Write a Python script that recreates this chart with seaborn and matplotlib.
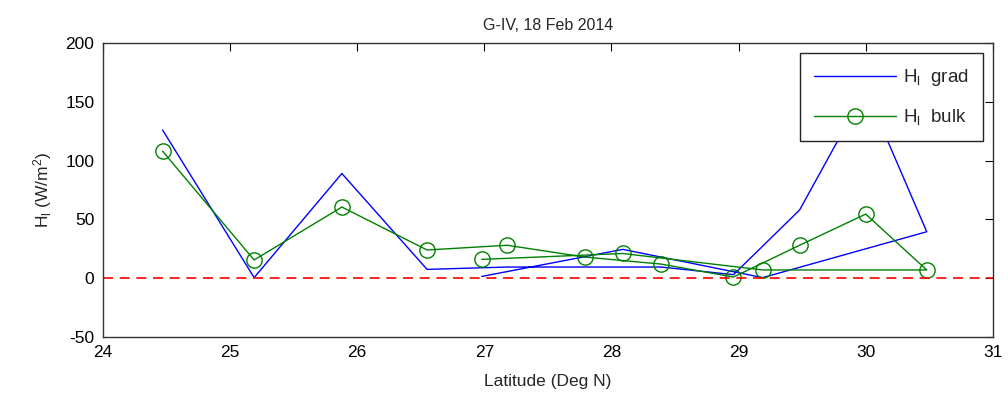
import pandas as pd
import matplotlib
matplotlib.use('Agg')
import matplotlib.pyplot as plt
import seaborn as sns

# Values (flight order, not sorted by latitude)
latitude = [24.47, 25.19, 25.88, 26.55, 27.18, 27.79, 28.39, 28.96, 29.48, 30.0, 30.48, 29.19, 28.09, 26.98]
hl_grad = [126, 0.5, 89, 7.5, 9.5, 9.5, 9.5, 3, 58, 160, 39.5, 0.5, 24.5, 1.5]
hl_bulk = [108, 15.5, 60.5, 24, 28, 18, 12, 1, 28, 54.5, 7, 7, 21, 16]

df = pd.DataFrame({'lat': latitude, 'grad': hl_grad, 'bulk': hl_bulk})

sns.set_style('white')
plt.rcParams['font.family'] = ['Liberation Sans', 'DejaVu Sans']
plt.rcParams['mathtext.default'] = 'regular'
plt.rcParams['axes.unicode_minus'] = False

fig = plt.figure(figsize=(10.08, 4.09), dpi=100)
ax = fig.add_axes([0.102, 0.176, 0.883, 0.719])

sns.lineplot(data=df, x='lat', y='grad', sort=False, estimator=None,
             color='#0000ff', lw=1.0, ax=ax, label=r'H$_l$  grad')
sns.lineplot(data=df, x='lat', y='bulk', sort=False, estimator=None,
             color='#008000', lw=1.0, marker='o', markersize=11,
             markerfacecolor='none', markeredgecolor='#008000',
             markeredgewidth=1.0, ax=ax, label=r'H$_l$  bulk')
ax.axhline(0, color='red', ls=(0, (6, 4)), lw=1.2)

ax.set_xlim(24, 31)
ax.set_ylim(-50, 200)
ax.set_xticks(range(24, 32))
ax.set_yticks(range(-50, 201, 50))
ax.tick_params(direction='in', length=6, width=0.8, top=True, right=True,
               labelsize=12.5, colors='black', pad=6)
for s in ax.spines.values():
    s.set_color('#333333')
    s.set_linewidth(1.0)

ax.set_title('G-IV, 18 Feb 2014', fontsize=11.5, pad=9)
ax.set_xlabel('Latitude (Deg N)', fontsize=12.5, labelpad=10)
ax.set_ylabel(r'H$_l$ (W/m$^2$)', fontsize=12.5, labelpad=8)

leg = ax.legend(loc='upper right', fontsize=13.5, handlelength=4.4,
                handletextpad=0.35, frameon=True, fancybox=False,
                edgecolor='#222222', framealpha=1, borderaxespad=0.55,
                labelspacing=1.0, borderpad=0.75, numpoints=1)
leg.get_frame().set_linewidth(1.0)

fig.savefig('out.png', dpi=100)
